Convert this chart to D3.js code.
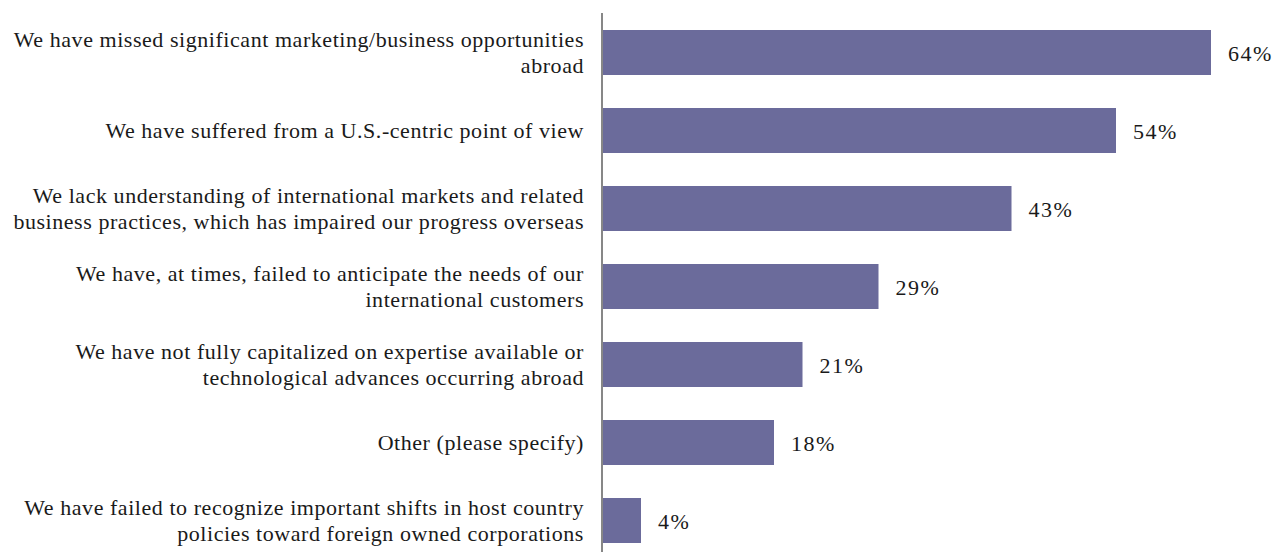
<!DOCTYPE html>
<html>
<head>
<meta charset="utf-8">
<script src="https://cdn.jsdelivr.net/npm/d3@7/dist/d3.min.js"></script>
<style>
  html, body { margin: 0; padding: 0; background: #ffffff; }
  svg { display: block; }
  text { font-family: "Liberation Serif", "Times New Roman", serif; fill: #1a1a1a; }
</style>
</head>
<body>
<svg id="chart" width="1287" height="552"></svg>
<script>
// Survey responses: consequences of limited international perspective
const categoryLines = [
  ["We have missed significant marketing/business opportunities", "abroad"],
  ["We have suffered from a U.S.-centric point of view"],
  ["We lack understanding of international markets and related", "business practices, which has impaired our progress overseas"],
  ["We have, at times, failed to anticipate the needs of our", "international customers"],
  ["We have not fully capitalized on expertise available or", "technological advances occurring abroad"],
  ["Other (please specify)"],
  ["We have failed to recognize important shifts in host country", "policies toward foreign owned corporations"]
];
const percentValues = [64, 54, 43, 29, 21, 18, 4];
const valueLabels = ["64%", "54%", "43%", "29%", "21%", "18%", "4%"];

const svg = d3.select("#chart");
const W = 1287, H = 552;
const axisX = 602;

const ids = categoryLines.map((_, i) => i);

const x = d3.scaleLinear().domain([0, 100]).range([603, 1553]);
const y = d3.scaleBand()
  .domain(ids)
  .range([13.5, 559.5])
  .paddingInner(33 / 78)
  .paddingOuter(33 / 156);

// bars
svg.append("g").selectAll("rect")
  .data(ids)
  .join("rect")
  .attr("x", x(0))
  .attr("y", i => y(i))
  .attr("width", i => x(percentValues[i]) - x(0))
  .attr("height", y.bandwidth())
  .attr("fill", "#6b6b9b");

// value labels
svg.append("g").selectAll("text")
  .data(ids)
  .join("text")
  .attr("x", i => x(percentValues[i]) + 17)
  .attr("y", i => y(i) + y.bandwidth() / 2 + 8.5)
  .attr("font-size", 22)
  .attr("letter-spacing", 1.5)
  .text(i => valueLabels[i]);

// category labels (right-aligned, multi-line)
const lineH = 26;
const labels = svg.append("g").selectAll("text")
  .data(ids)
  .join("text")
  .attr("text-anchor", "end")
  .attr("font-size", 22)
  .attr("letter-spacing", 0.55)
  .attr("y", i => y(i) + y.bandwidth() / 2 + 7.5 - (categoryLines[i].length - 1) * lineH / 2);
labels.each(function(i) {
  const t = d3.select(this);
  categoryLines[i].forEach((ln, k) => {
    t.append("tspan").attr("x", 584).attr("dy", k === 0 ? 0 : lineH).text(ln);
  });
});

// vertical category axis line
svg.append("line")
  .attr("x1", axisX).attr("x2", axisX)
  .attr("y1", 13).attr("y2", H)
  .attr("stroke", "#878787")
  .attr("stroke-width", 2);
</script>
</body>
</html>
